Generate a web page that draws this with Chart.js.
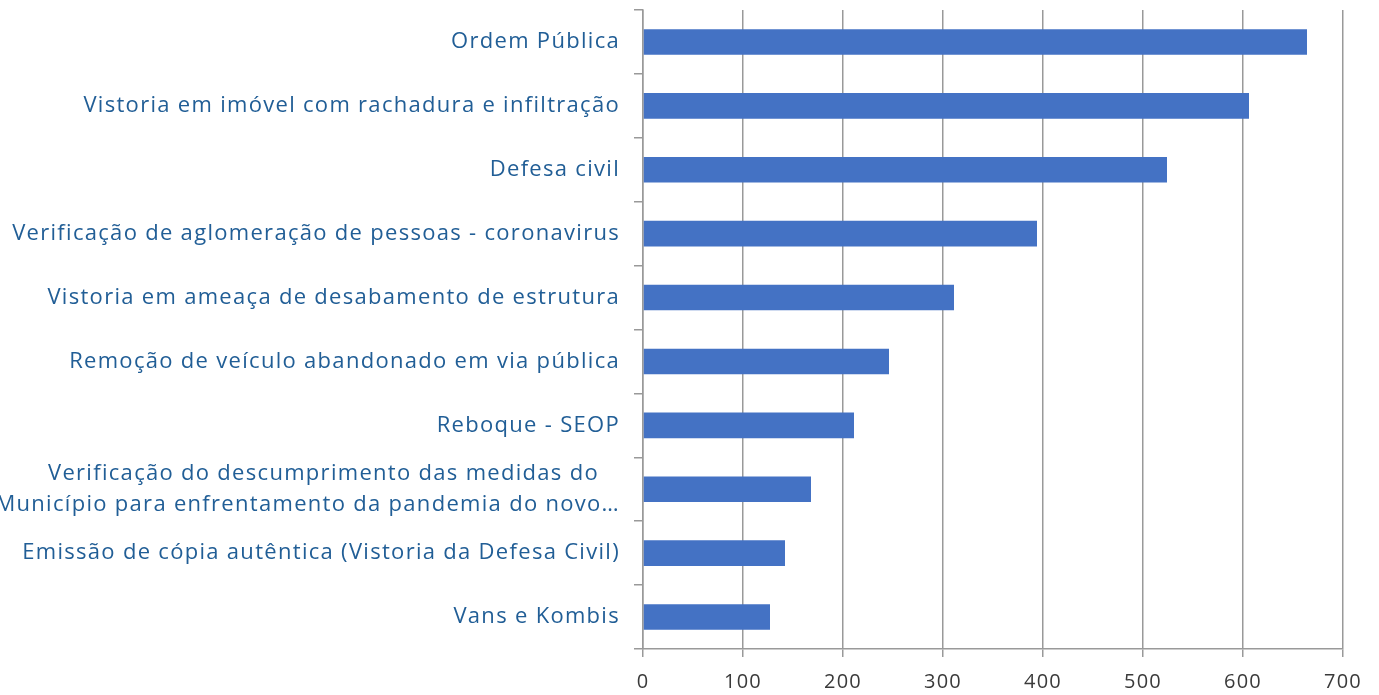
<!DOCTYPE html>
<html>
<head>
<meta charset="utf-8">
<script src="https://cdn.jsdelivr.net/npm/chart.js@4/dist/chart.umd.min.js"></script>
<style>
html,body{margin:0;padding:0;background:#fff;}
#wrap{width:1379px;height:695px;position:relative;}
</style>
</head>
<body>
<div id="wrap"><canvas id="c"></canvas></div>
<script>
const categories = [
  "Ordem Pública",
  "Vistoria em imóvel com rachadura e infiltração",
  "Defesa civil",
  "Verificação de aglomeração de pessoas - coronavirus",
  "Vistoria em ameaça de desabamento de estrutura",
  "Remoção de veículo abandonado em via pública",
  "Reboque - SEOP",
  ["Verificação do descumprimento das medidas do", "Município para enfrentamento da pandemia do novo…"],
  "Emissão de cópia autêntica (Vistoria da Defesa Civil)",
  "Vans e Kombis"
];
const values = [664, 606, 524, 394, 311, 246, 211, 168, 142, 127];
const xMin = 0, xMax = 700, xStep = 100;

const spacing = {
  id: 'spacing',
  beforeUpdate(chart) { chart.ctx.letterSpacing = '1.3px'; },
  beforeDraw(chart) { chart.ctx.letterSpacing = '1.3px'; }
};

new Chart(document.getElementById('c'), {
  type: 'bar',
  plugins: [spacing],
  data: {
    labels: categories,
    datasets: [{
      data: values,
      backgroundColor: '#4472C4',
      borderWidth: 0,
      barPercentage: 0.8,
      categoryPercentage: 0.5
    }]
  },
  options: {
    indexAxis: 'y',
    responsive: true,
    maintainAspectRatio: false,
    animation: false,
    layout: { padding: { top: 10, right: 36, bottom: 0, left: 0 } },
    plugins: { legend: { display: false }, tooltip: { enabled: false } },
    scales: {
      x: {
        min: xMin, max: xMax,
        ticks: { stepSize: xStep, color: '#3a3a3a', font: { family: 'Open Sans', size: 20 }, padding: 13 },
        grid: { color: '#999999', lineWidth: 1.5, tickLength: 8, drawTicks: true },
        border: { display: true, color: '#999999', width: 1.5 },
        afterFit: s => { s.height = 46; }
      },
      y: {
        ticks: {
          color: '#215E96',
          font: { family: 'Open Sans', size: 22, lineHeight: 1.45 },
          padding: 14,
          autoSkip: false,
          callback: function (v, i) {
            const l = categories[i];
            return Array.isArray(l) ? [l[0] + '   ', l[1]] : l;
          }
        },
        grid: { offset: true, drawOnChartArea: false, color: '#999999', lineWidth: 1.5, tickLength: 9 },
        border: { display: true, color: '#999999', width: 1.5 },
        afterFit: s => { s.width = 643; s.paddingTop = 0; s.paddingBottom = 0; }
      }
    }
  }
});
</script>
</body>
</html>
